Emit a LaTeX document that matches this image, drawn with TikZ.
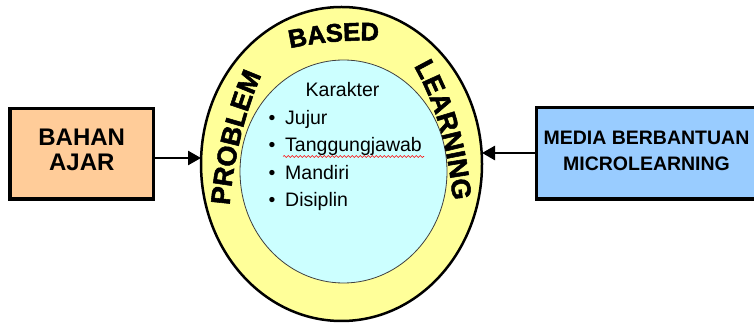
\documentclass[tikz,border=0pt]{standalone}
\usepackage{fontspec}
\setmainfont{Liberation Sans}
\newfontfamily\heavysans{Liberation Sans Bold}[FakeBold=2]
\usetikzlibrary{shapes.geometric,arrows.meta,decorations.text,decorations.pathmorphing}

\definecolor{ringyellow}{HTML}{FFFF99}
\definecolor{corecyan}{HTML}{CCFFFF}
\definecolor{peach}{HTML}{FFCC99}
\definecolor{skyblue}{HTML}{99CCFF}

% fonts for the arched title
\newcommand{\arcfont}{\heavysans\fontsize{27}{27}\selectfont}
\newcommand{\arcfonttop}{\heavysans\fontsize{25.5}{25.5}\selectfont}

\begin{document}
\begin{tikzpicture}[x=1pt,y=1pt,
  sidebox/.style={draw=black, line width=3.2pt, inner sep=0pt, outer sep=0pt},
  boxlabel/.style={align=center, inner sep=0pt, font=\bfseries},
  listitem/.style={inner sep=0pt, font=\fontsize{19.5}{19.5}\selectfont},
  feed/.style={line width=2.6pt, -{Triangle[length=13pt,width=14pt]}},
  arctext/.style={decorate, decoration={text along path, text align=center, text={#1}}}
]
\clip (0,0) rectangle (754,326);
\useasboundingbox (0,0) rectangle (754,326);

% outer ring and inner core
\node[ellipse, draw=black, line width=2.5pt, fill=ringyellow,
      minimum width=281pt, minimum height=314pt, inner sep=0pt, outer sep=0pt]
      (ring) at (341.5,162) {};
\node[ellipse, draw=black!75, line width=0.8pt, fill=corecyan,
      minimum width=207pt, minimum height=223pt, inner sep=0pt]
      (core) at (343.5,154.5) {};

% arched title in the ring
\path[arctext={|\arcfont|PROBLEM}]
  (229,113) .. controls (232,160) and (244,215) .. (265,258);
\path[arctext={|\arcfonttop|BASED}]
  (287,277) .. controls (312,283) and (350,287) .. (382,285);
\path[arctext={|\arcfont|LEARNING}]
  (412,263) .. controls (433,228) and (449,180) .. (453,122);

% list of character values
\node[listitem, anchor=base] (karakter) at (342.5,229) {Karakter};
\node[listitem, anchor=base] (b1) at (272,201) {•};
\node[listitem, anchor=base west] (jujur) at (285,201) {Jujur};
\node[listitem, anchor=base] (b2) at (272,174) {•};
\node[listitem, anchor=base west] (tang) at (285,174) {Tanggungjawab};
\node[listitem, anchor=base] (b3) at (272,146.5) {•};
\node[listitem, anchor=base west] (mandiri) at (285,146.5) {Mandiri};
\node[listitem, anchor=base] (b4) at (272,119) {•};
\node[listitem, anchor=base west] (disiplin) at (285,119) {Disiplin};

% spelling squiggle under the long word
\draw[red, line width=0.6pt, decorate,
      decoration={snake, segment length=4pt, amplitude=1pt}]
  ([yshift=-4.5pt,xshift=-2pt]tang.base west) -- ([yshift=-4.5pt,xshift=2pt]tang.base east);

% side boxes
\node[sidebox, fill=peach, minimum width=143.5pt, minimum height=90.5pt]
  (bahan) at (81.75,172.25) {};
\node[boxlabel, font=\fontsize{24}{25}\selectfont\bfseries]
  (bahanlbl) at ([yshift=3.5pt]bahan.center) {BAHAN\\AJAR};

\node[sidebox, fill=skyblue, minimum width=225.5pt, minimum height=91.5pt]
  (media) at (649.25,172.75) {};
\node[boxlabel, font=\fontsize{19.5}{26}\selectfont\bfseries]
  (medialbl) at ([xshift=-2.75pt,yshift=2pt]media.center) {MEDIA BERBANTUAN\\MICROLEARNING};

% connectors into the ring
\draw[feed] ([yshift=-4.25pt]bahan.east) -- ([yshift=6pt]ring.west);
\draw[feed] ([yshift=0.25pt]media.west) -- ([yshift=11pt]ring.east);
\end{tikzpicture}
\end{document}
